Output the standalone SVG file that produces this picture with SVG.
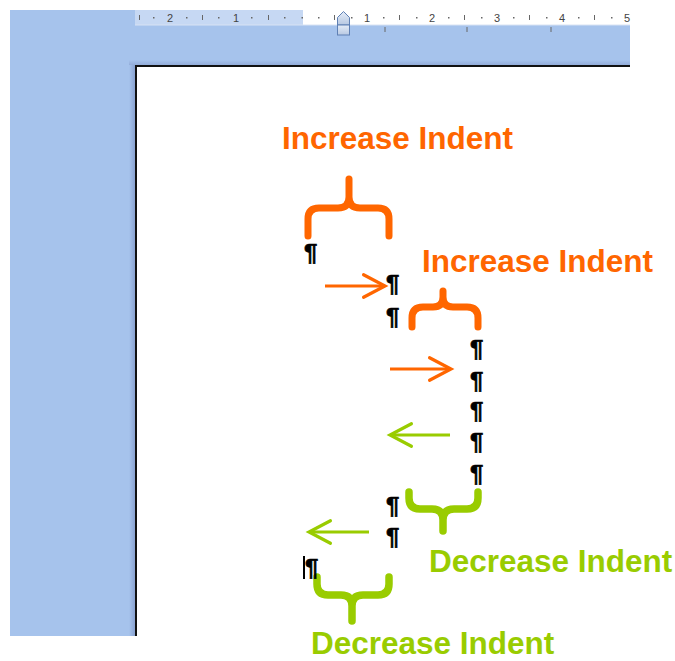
<svg xmlns="http://www.w3.org/2000/svg" width="675" height="661" viewBox="0 0 675 661">
<style>
.lbl{font-family:"Liberation Sans",Arial,sans-serif;font-weight:bold;font-size:31.5px}
.inc{fill:#ff6600}
.dec{fill:#99cc00}
.pil{font-family:"Liberation Sans",Arial,sans-serif;font-weight:bold;font-size:24px;fill:#000;stroke:#000;stroke-width:0.6}
.brO{fill:none;stroke:#ff6600;stroke-width:7;stroke-linecap:round;stroke-linejoin:round}
.brG{fill:none;stroke:#99cc00;stroke-width:7.5;stroke-linecap:round;stroke-linejoin:round}
.arO{fill:none;stroke:#ff6600;stroke-width:3}
.arG{fill:none;stroke:#99cc00;stroke-width:3}
.rnum{font-family:"Liberation Sans",Arial,sans-serif;font-size:11px;fill:#444;text-anchor:middle}
.tick{stroke:#666;stroke-width:1}
</style>
<defs>
<marker id="chevO" markerUnits="userSpaceOnUse" markerWidth="30" markerHeight="30" refX="0" refY="0" viewBox="-24 -14 28 28" orient="auto" overflow="visible">
<path d="M-20,-10.5 L0,0 L-20,10.5" fill="none" stroke="#ff6600" stroke-width="3" stroke-linecap="round"/>
</marker>
<marker id="chevG" markerUnits="userSpaceOnUse" markerWidth="30" markerHeight="30" refX="0" refY="0" viewBox="-24 -14 28 28" orient="auto" overflow="visible">
<path d="M-20,-10.5 L0,0 L-20,10.5" fill="none" stroke="#99cc00" stroke-width="3" stroke-linecap="round"/>
</marker>
<linearGradient id="shadowL" x1="0" x2="1" y1="0" y2="0">
<stop offset="0" stop-color="#a6c3ec"/>
<stop offset="1" stop-color="#8aa3d2"/>
</linearGradient>
<linearGradient id="shadowT" x1="0" x2="0" y1="0" y2="1">
<stop offset="0" stop-color="#a6c3ec"/>
<stop offset="1" stop-color="#93acd9"/>
</linearGradient>
<linearGradient id="mk" x1="0" x2="0" y1="0" y2="1">
<stop offset="0" stop-color="#e4ecf7"/>
<stop offset="1" stop-color="#b7c8e2"/>
</linearGradient>
</defs>
<rect width="675" height="661" fill="#fff"/>
<g id="workspace">
<rect x="10" y="10" width="620" height="626" fill="#a6c3ec"/>
<rect x="129" y="60" width="6" height="576" fill="url(#shadowL)"/>
<rect x="129" y="60" width="501" height="5" fill="url(#shadowT)"/>
<rect x="135" y="65" width="495" height="571" fill="#fff"/>
<path d="M136,636 V66 H630" fill="none" stroke="#111" stroke-width="2"/>
</g>
<g id="ruler">
<rect x="135" y="10" width="495" height="15" fill="#fff"/>
<rect x="135" y="10" width="168" height="15" fill="#c6d8f3"/>
<line x1="135" y1="25" x2="630" y2="25" stroke="#d8e3f3" stroke-width="1"/>
<g class="tick">
<line x1="139.5" y1="15" x2="139.5" y2="20"/>
<line x1="202.5" y1="15" x2="202.5" y2="20"/>
<line x1="268.5" y1="15" x2="268.5" y2="20"/>
<line x1="334.5" y1="15" x2="334.5" y2="20"/>
<line x1="399.5" y1="15" x2="399.5" y2="20"/>
<line x1="464.5" y1="15" x2="464.5" y2="20"/>
<line x1="529.5" y1="15" x2="529.5" y2="20"/>
<line x1="594.5" y1="15" x2="594.5" y2="20"/>
</g>
<g fill="#666">
<rect x="153" y="17" width="1.5" height="1.5"/>
<rect x="186" y="17" width="1.5" height="1.5"/>
<rect x="218" y="17" width="1.5" height="1.5"/>
<rect x="251" y="17" width="1.5" height="1.5"/>
<rect x="284" y="17" width="1.5" height="1.5"/>
<rect x="301.5" y="17" width="1.5" height="1.5"/>
<rect x="318" y="17" width="1.5" height="1.5"/>
<rect x="351" y="17" width="1.5" height="1.5"/>
<rect x="383" y="17" width="1.5" height="1.5"/>
<rect x="416" y="17" width="1.5" height="1.5"/>
<rect x="448" y="17" width="1.5" height="1.5"/>
<rect x="481" y="17" width="1.5" height="1.5"/>
<rect x="513" y="17" width="1.5" height="1.5"/>
<rect x="546" y="17" width="1.5" height="1.5"/>
<rect x="578" y="17" width="1.5" height="1.5"/>
<rect x="611" y="17" width="1.5" height="1.5"/>
</g>
<text class="rnum" x="170" y="22">2</text>
<text class="rnum" x="236" y="22">1</text>
<text class="rnum" x="367" y="22">1</text>
<text class="rnum" x="432" y="22">2</text>
<text class="rnum" x="497" y="22">3</text>
<text class="rnum" x="562" y="22">4</text>
<text class="rnum" x="627" y="22">5</text>
<g class="tick" stroke="#777">
<line x1="385" y1="27" x2="385" y2="32"/>
<line x1="467" y1="27" x2="467" y2="32"/>
<line x1="551" y1="27" x2="551" y2="32"/>
</g>
<path d="M337.5,25 V17.5 L343.5,11.5 L349.5,17.5 V25 Z" fill="url(#mk)" stroke="#5f80b4" stroke-width="1"/>
<rect x="337.5" y="25" width="12" height="10" fill="url(#mk)" stroke="#5f80b4" stroke-width="1"/>
</g>
<g id="label-increase-1"><text class="lbl inc" x="282" y="149">Increase Indent</text></g>
<g id="label-increase-2"><text class="lbl inc" x="422" y="272">Increase Indent</text></g>
<g id="label-decrease-1"><text class="lbl dec" x="429" y="572">Decrease Indent</text></g>
<g id="label-decrease-2"><text class="lbl dec" x="311" y="654">Decrease Indent</text></g>
<g id="brace-increase-1"><path class="brO" d="M308,236 V219 Q308,208 319,208 H338 Q349,208 349,197 V179 M349,197 Q349,208 360,208 H378 Q389,208 389,219 V236"/></g>
<g id="brace-increase-2"><path class="brO" d="M412,327 V318 Q412,307 423,307 H433 Q443,307 443,297 V291 M443,297 Q443,307 453,307 H467 Q478,307 478,318 V327"/></g>
<g id="brace-decrease-1"><path class="brG" d="M409,492 V498 Q409,509 420,509 H432 Q443,509 443,520 V531 M443,520 Q443,509 454,509 H467 Q478,509 478,498 V492"/></g>
<g id="brace-decrease-2"><path class="brG" d="M317,577 V584 Q317,595 328,595 H341 Q352,595 352,606 V621 M352,606 Q352,595 363,595 H378 Q389,595 389,584 V577"/></g>
<g id="paragraphs">
<g id="p1"><text class="pil" x="304" y="261">¶</text></g>
<g id="p2"><text class="pil" x="386" y="292">¶</text></g>
<g id="p3"><text class="pil" x="386" y="325">¶</text></g>
<g id="p4"><text class="pil" x="470" y="357">¶</text></g>
<g id="p5"><text class="pil" x="470" y="389">¶</text></g>
<g id="p6"><text class="pil" x="470" y="419">¶</text></g>
<g id="p7"><text class="pil" x="470" y="450">¶</text></g>
<g id="p8"><text class="pil" x="470" y="482">¶</text></g>
<g id="p9"><text class="pil" x="386" y="514">¶</text></g>
<g id="p10"><text class="pil" x="386" y="545">¶</text></g>
<g id="p11"><text class="pil" x="305" y="576">¶</text><rect x="303" y="556" width="2" height="23" fill="#000"/></g>
</g>
<g id="connectors">
<line class="arO" x1="325" y1="286" x2="385" y2="286" marker-end="url(#chevO)"/>
<line class="arO" x1="390" y1="369" x2="451" y2="369" marker-end="url(#chevO)"/>
<line class="arG" x1="450" y1="435" x2="390" y2="435" marker-end="url(#chevG)"/>
<line class="arG" x1="369" y1="532" x2="309" y2="532" marker-end="url(#chevG)"/>
</g>
</svg>
